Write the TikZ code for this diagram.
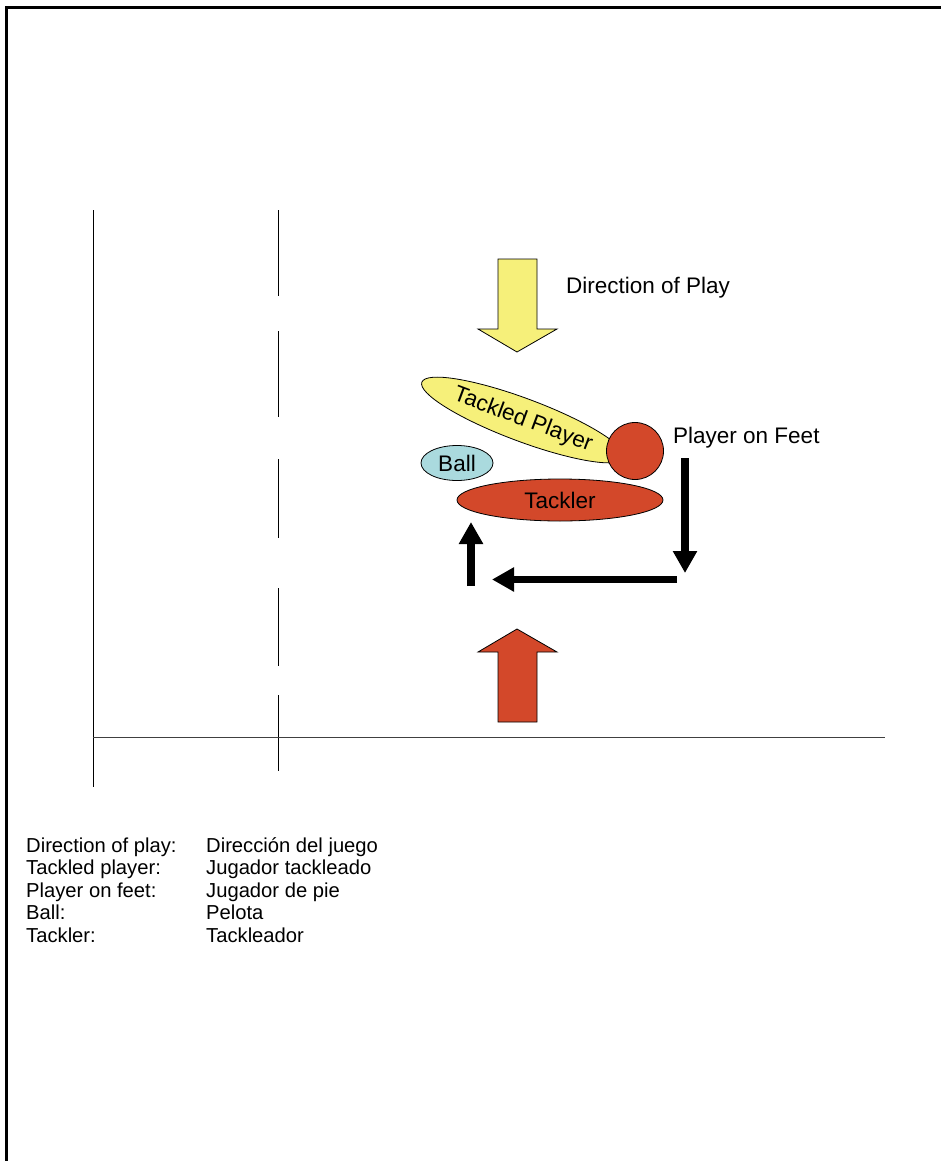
\documentclass[tikz,border=0pt]{standalone}
\usepackage{fontspec}
\setmainfont{Liberation Sans}
\usetikzlibrary{arrows.meta,shapes.geometric}
\definecolor{ylw}{RGB}{246,240,122}
\definecolor{rd}{RGB}{211,72,42}
\definecolor{blu}{RGB}{170,218,222}
\begin{document}
\begin{tikzpicture}[x=1pt,y=-1pt,
  shapeline/.style={draw=black,line width=0.8pt},
  lbl/.style={inner sep=0pt,font=\fontsize{22.5}{27}\selectfont},
  legend/.style={inner sep=0pt,anchor=base west,font=\fontsize{20.2}{24}\selectfont},
  blackarrow/.style={line width=7.5pt,-{Triangle[length=22pt,width=23pt]}},
  fieldline/.style={line width=1pt,black}]
\useasboundingbox (0,0) rectangle (940,1161);
% frame
\draw[line width=2.5pt] (6.5,1170) -- (6.5,7.5) -- (950,7.5);
% field lines
\draw[fieldline] (93,210) -- (93,787);
\foreach \a/\b in {210/296,331/417,459/538,588/666,695/771}
  \draw[fieldline] (278,\a) -- (278,\b);
\draw[line width=1pt,black!75] (93,737) -- (885,737);
% yellow direction arrow
\draw[shapeline,fill=ylw] (498,259) -- (537,259) -- (537,329) -- (557,329) -- (517,352) -- (478,329) -- (498,329) -- cycle;
\node[lbl,anchor=base west] (dop) at (566,293) {Direction of Play};
% tackled player
\node[shapeline,ellipse,fill=ylw,minimum width=216pt,minimum height=43pt,inner sep=0pt,rotate=-20.5] (tp) at (523,420) {};
\node[lbl,rotate=-20.5] (tptext) at (tp.center) {Tackled Player};
% player on feet
\node[shapeline,circle,fill=rd,minimum size=57pt,inner sep=0pt] (pof) at (635,451) {};
\node[lbl,anchor=base west] (poftext) at (673,443) {Player on Feet};
% ball
\node[shapeline,ellipse,fill=blu,minimum width=72pt,minimum height=35pt,inner sep=0pt] (ball) at (457,463) {};
\node[lbl] (balltext) at (ball.center) {Ball};
% tackler
\node[shapeline,ellipse,fill=rd,minimum width=206pt,minimum height=42pt,inner sep=0pt] (tackler) at (560,500) {};
\node[lbl] (tacklertext) at (tackler.center) {Tackler};
% black movement arrows
\coordinate (a1) at (685,458);
\coordinate (a2) at (685,573);
\coordinate (b1) at (677,579.5);
\coordinate (b2) at (492,579.5);
\coordinate (c1) at (471,586);
\coordinate (c2) at (471,522);
\draw[blackarrow] (a1) -- (a2);
\draw[blackarrow] (b1) -- (b2);
\draw[blackarrow] (c1) -- (c2);
% red arrow
\draw[shapeline,fill=rd] (498,722) -- (537,722) -- (537,652) -- (557,652) -- (517,629) -- (478,652) -- (498,652) -- cycle;
% legend
\node[legend] (l1) at (26,852) {Direction of play:};
\node[legend] (l2) at (26,874.5) {Tackled player:};
\node[legend] (l3) at (26,897) {Player on feet:};
\node[legend] (l4) at (26,919.5) {Ball:};
\node[legend] (l5) at (26,942) {Tackler:};
\node[legend] (r1) at (206,852) {Dirección del juego};
\node[legend] (r2) at (206,874.5) {Jugador tackleado};
\node[legend] (r3) at (206,897) {Jugador de pie};
\node[legend] (r4) at (206,919.5) {Pelota};
\node[legend] (r5) at (206,942) {Tackleador};
\end{tikzpicture}
\end{document}
